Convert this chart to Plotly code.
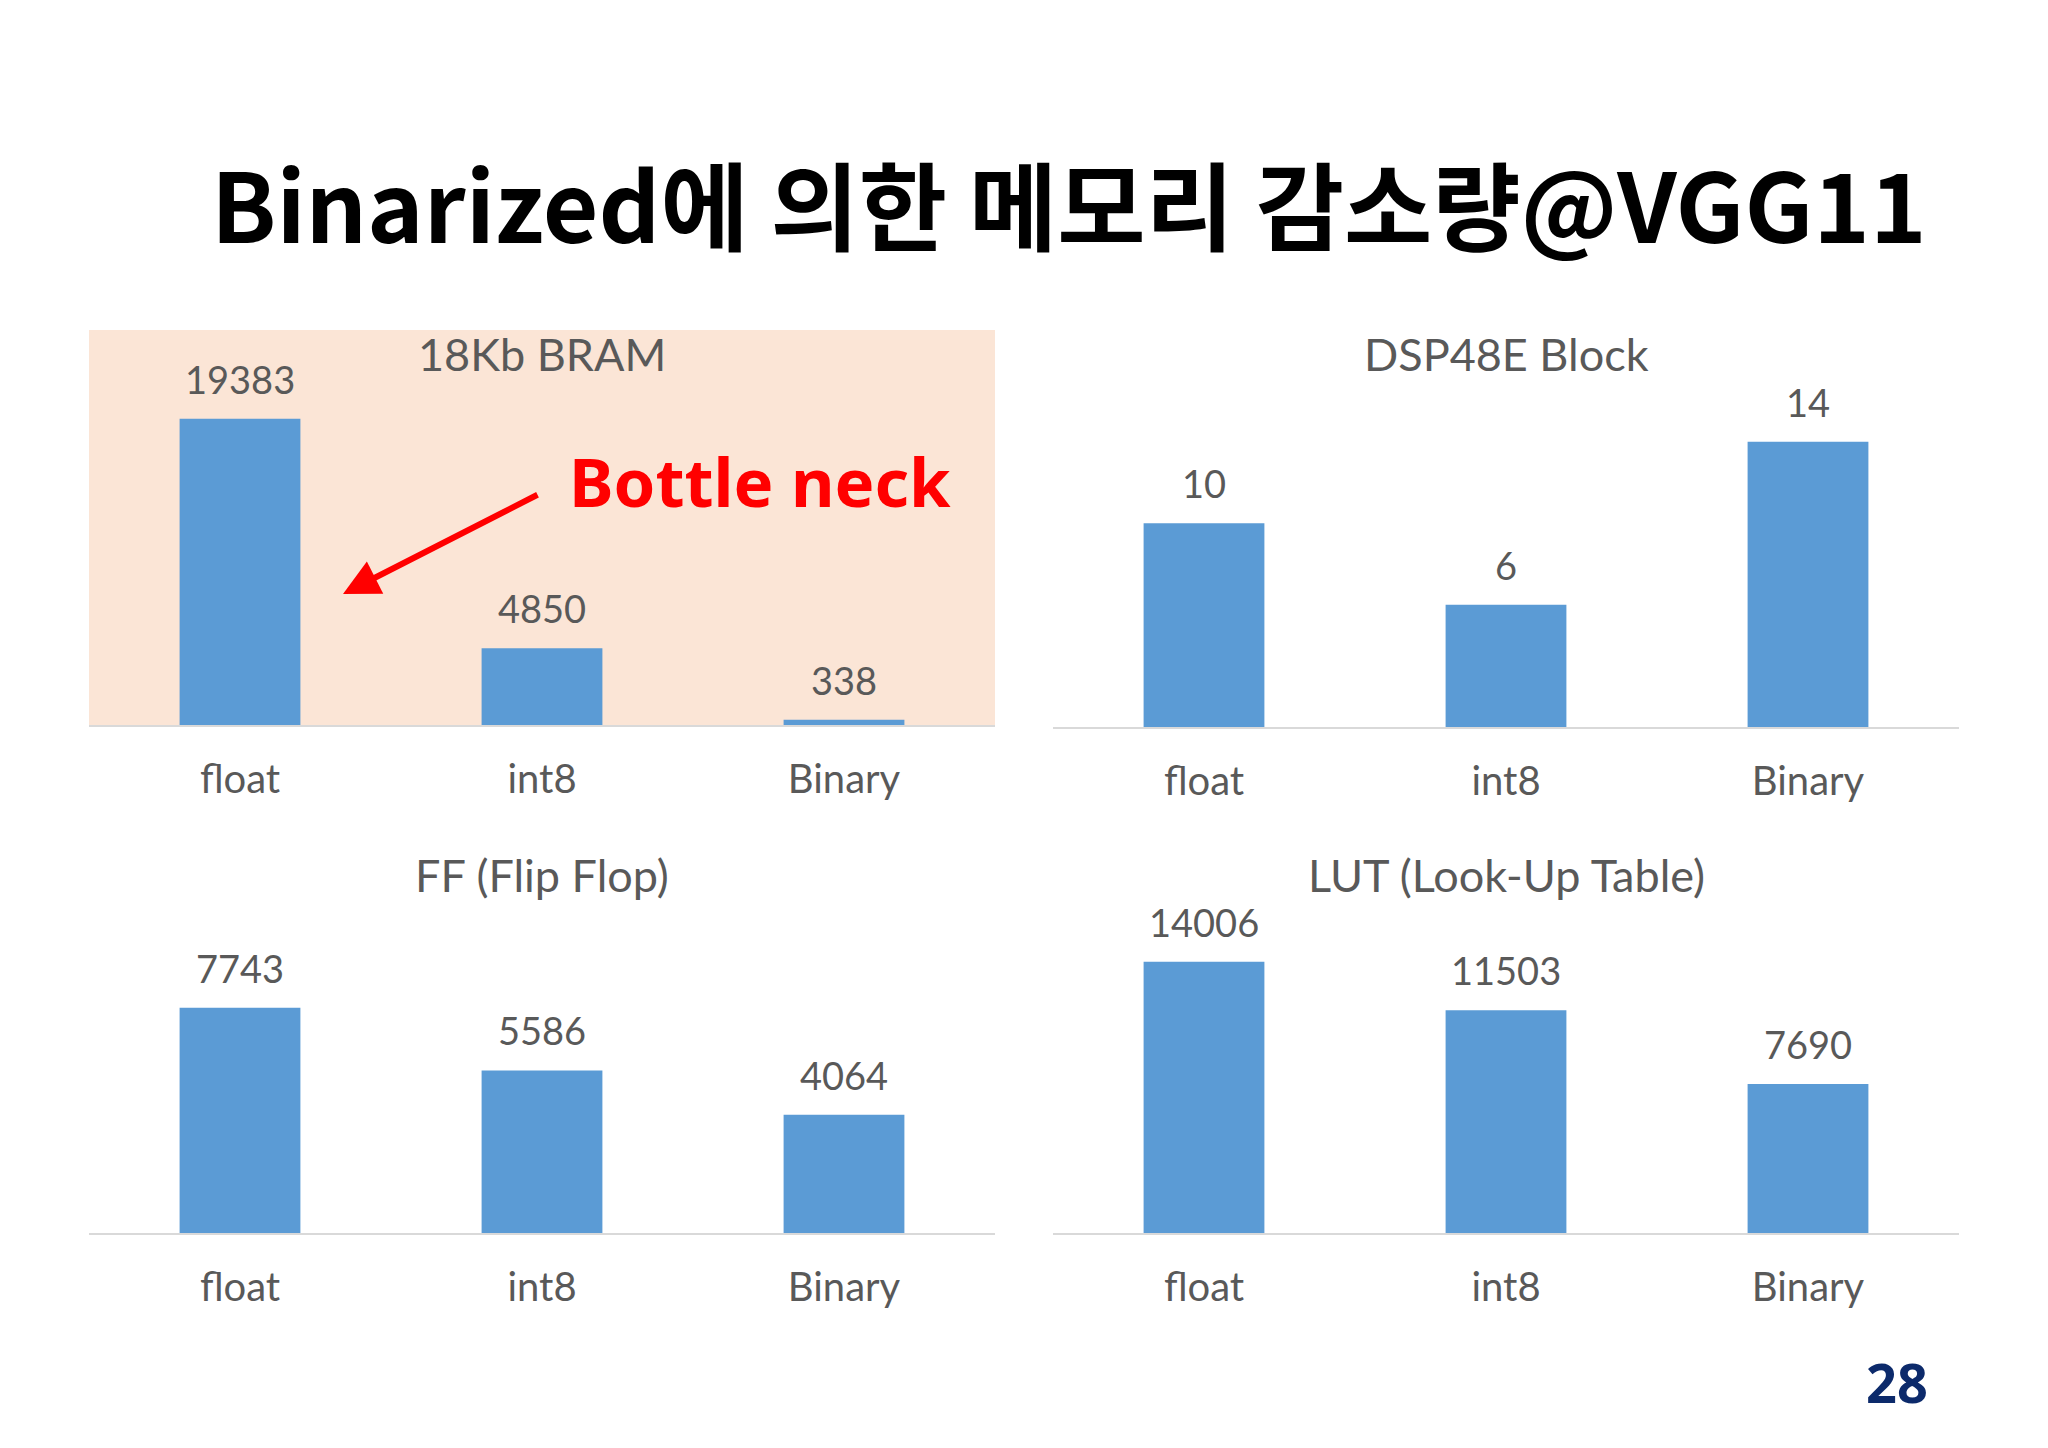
import plotly.graph_objects as go

categories = ["float", "int8", "Binary"]
bram_values = [19383, 4850, 338]
dsp_values = [10, 6, 14]
ff_values = [7743, 5586, 4064]
lut_values = [14006, 11503, 7690]

panel_titles = ["18Kb BRAM", "DSP48E Block", "FF (Flip Flop)", "LUT (Look-Up Table)"]
main_title = "Binarized에 의한 메모리 감소량@VGG11"
page_number = "28"
callout = "Bottle neck"

W, H = 2048, 1448
OFF = 8  # page body margin
BAR = "#5B9BD5"
GRAY = "#595959"
FONT = "Lato"

def px(x):
    return (x - OFF) / W

def py(y):
    return 1 - (y - OFF) / H

panels = [
    # values, x-domain px, baseline px, top px, range max, title center px
    (bram_values, (89, 995), 725, 330, 25000, (542, 354)),
    (dsp_values, (1053, 1959), 727, 401, 16, (1506, 354)),
    (ff_values, (89, 995), 1233, 942, 10000, (542, 875)),
    (lut_values, (1053, 1959), 1233, 923, 16000, (1506, 875)),
]

fig = go.Figure()
annotations = []
layout_axes = {}

for i, (vals, (x0, x1), base, top, rmax, (tx, ty)) in enumerate(panels):
    n = "" if i == 0 else str(i + 1)
    xa, ya = "x" + n, "y" + n
    fig.add_trace(go.Bar(x=categories, y=vals, marker_color=BAR, marker_line_width=0,
                         xaxis=xa, yaxis=ya, showlegend=False, hoverinfo="x+y"))
    layout_axes["xaxis" + n] = dict(
        domain=[px(x0), px(x1)], anchor=ya, showline=True, linecolor="#D9D9D9",
        linewidth=2, showgrid=False, zeroline=False, ticks="",
        tickfont=dict(family=FONT, size=40, color=GRAY), ticklabelstandoff=18,
    )
    layout_axes["yaxis" + n] = dict(
        domain=[py(base), py(top)], anchor=xa, range=[0, rmax], visible=False,
    )
    for c, v in zip(categories, vals):
        annotations.append(dict(
            x=c, y=v, xref=xa, yref=ya, text=str(v), showarrow=False,
            yanchor="middle", yshift=40,
            font=dict(family=FONT, size=38, color=GRAY),
        ))
    annotations.append(dict(
        x=px(tx), y=py(ty), xref="paper", yref="paper", text=panel_titles[i],
        showarrow=False, xanchor="center", yanchor="middle",
        font=dict(family=FONT, size=45, color=GRAY),
    ))

# main title
annotations.append(dict(
    x=px(1069), y=py(201), xref="paper", yref="paper", text=f"<b>{main_title}</b>",
    showarrow=False, xanchor="center", yanchor="middle",
    font=dict(family="Noto Sans CJK KR", size=96, color="#000000"),
))
# page number
annotations.append(dict(
    x=px(1897), y=py(1382), xref="paper", yref="paper", text=f"<b>{page_number}</b>",
    showarrow=False, xanchor="center", yanchor="middle",
    font=dict(family="Noto Sans", size=54, color="#0C2A6B"),
))
# callout text
annotations.append(dict(
    x=px(760), y=py(481), xref="paper", yref="paper", text=f"<b>{callout}</b>",
    showarrow=False, xanchor="center", yanchor="middle",
    font=dict(family="Noto Sans", size=67, color="#FF0000"),
))
# arrow
annotations.append(dict(
    x=px(343), y=py(594), xref="paper", yref="paper", text="",
    showarrow=True, ax=196, ay=-100, axref="pixel", ayref="pixel",
    arrowhead=2, arrowsize=1.2, arrowwidth=6, arrowcolor="#FF0000",
))

shapes = [dict(
    type="rect", xref="x domain", yref="y domain", x0=0, x1=1, y0=0, y1=1,
    fillcolor="#FBE5D6", line_width=0, layer="below",
)]

fig.update_layout(
    width=W, height=H, margin=dict(l=0, r=0, t=0, b=0),
    paper_bgcolor="#FFFFFF", plot_bgcolor="rgba(0,0,0,0)",
    bargap=0.6, annotations=annotations, shapes=shapes,
    font=dict(family=FONT, color=GRAY),
    **layout_axes,
)

fig.write_html("out.html")
